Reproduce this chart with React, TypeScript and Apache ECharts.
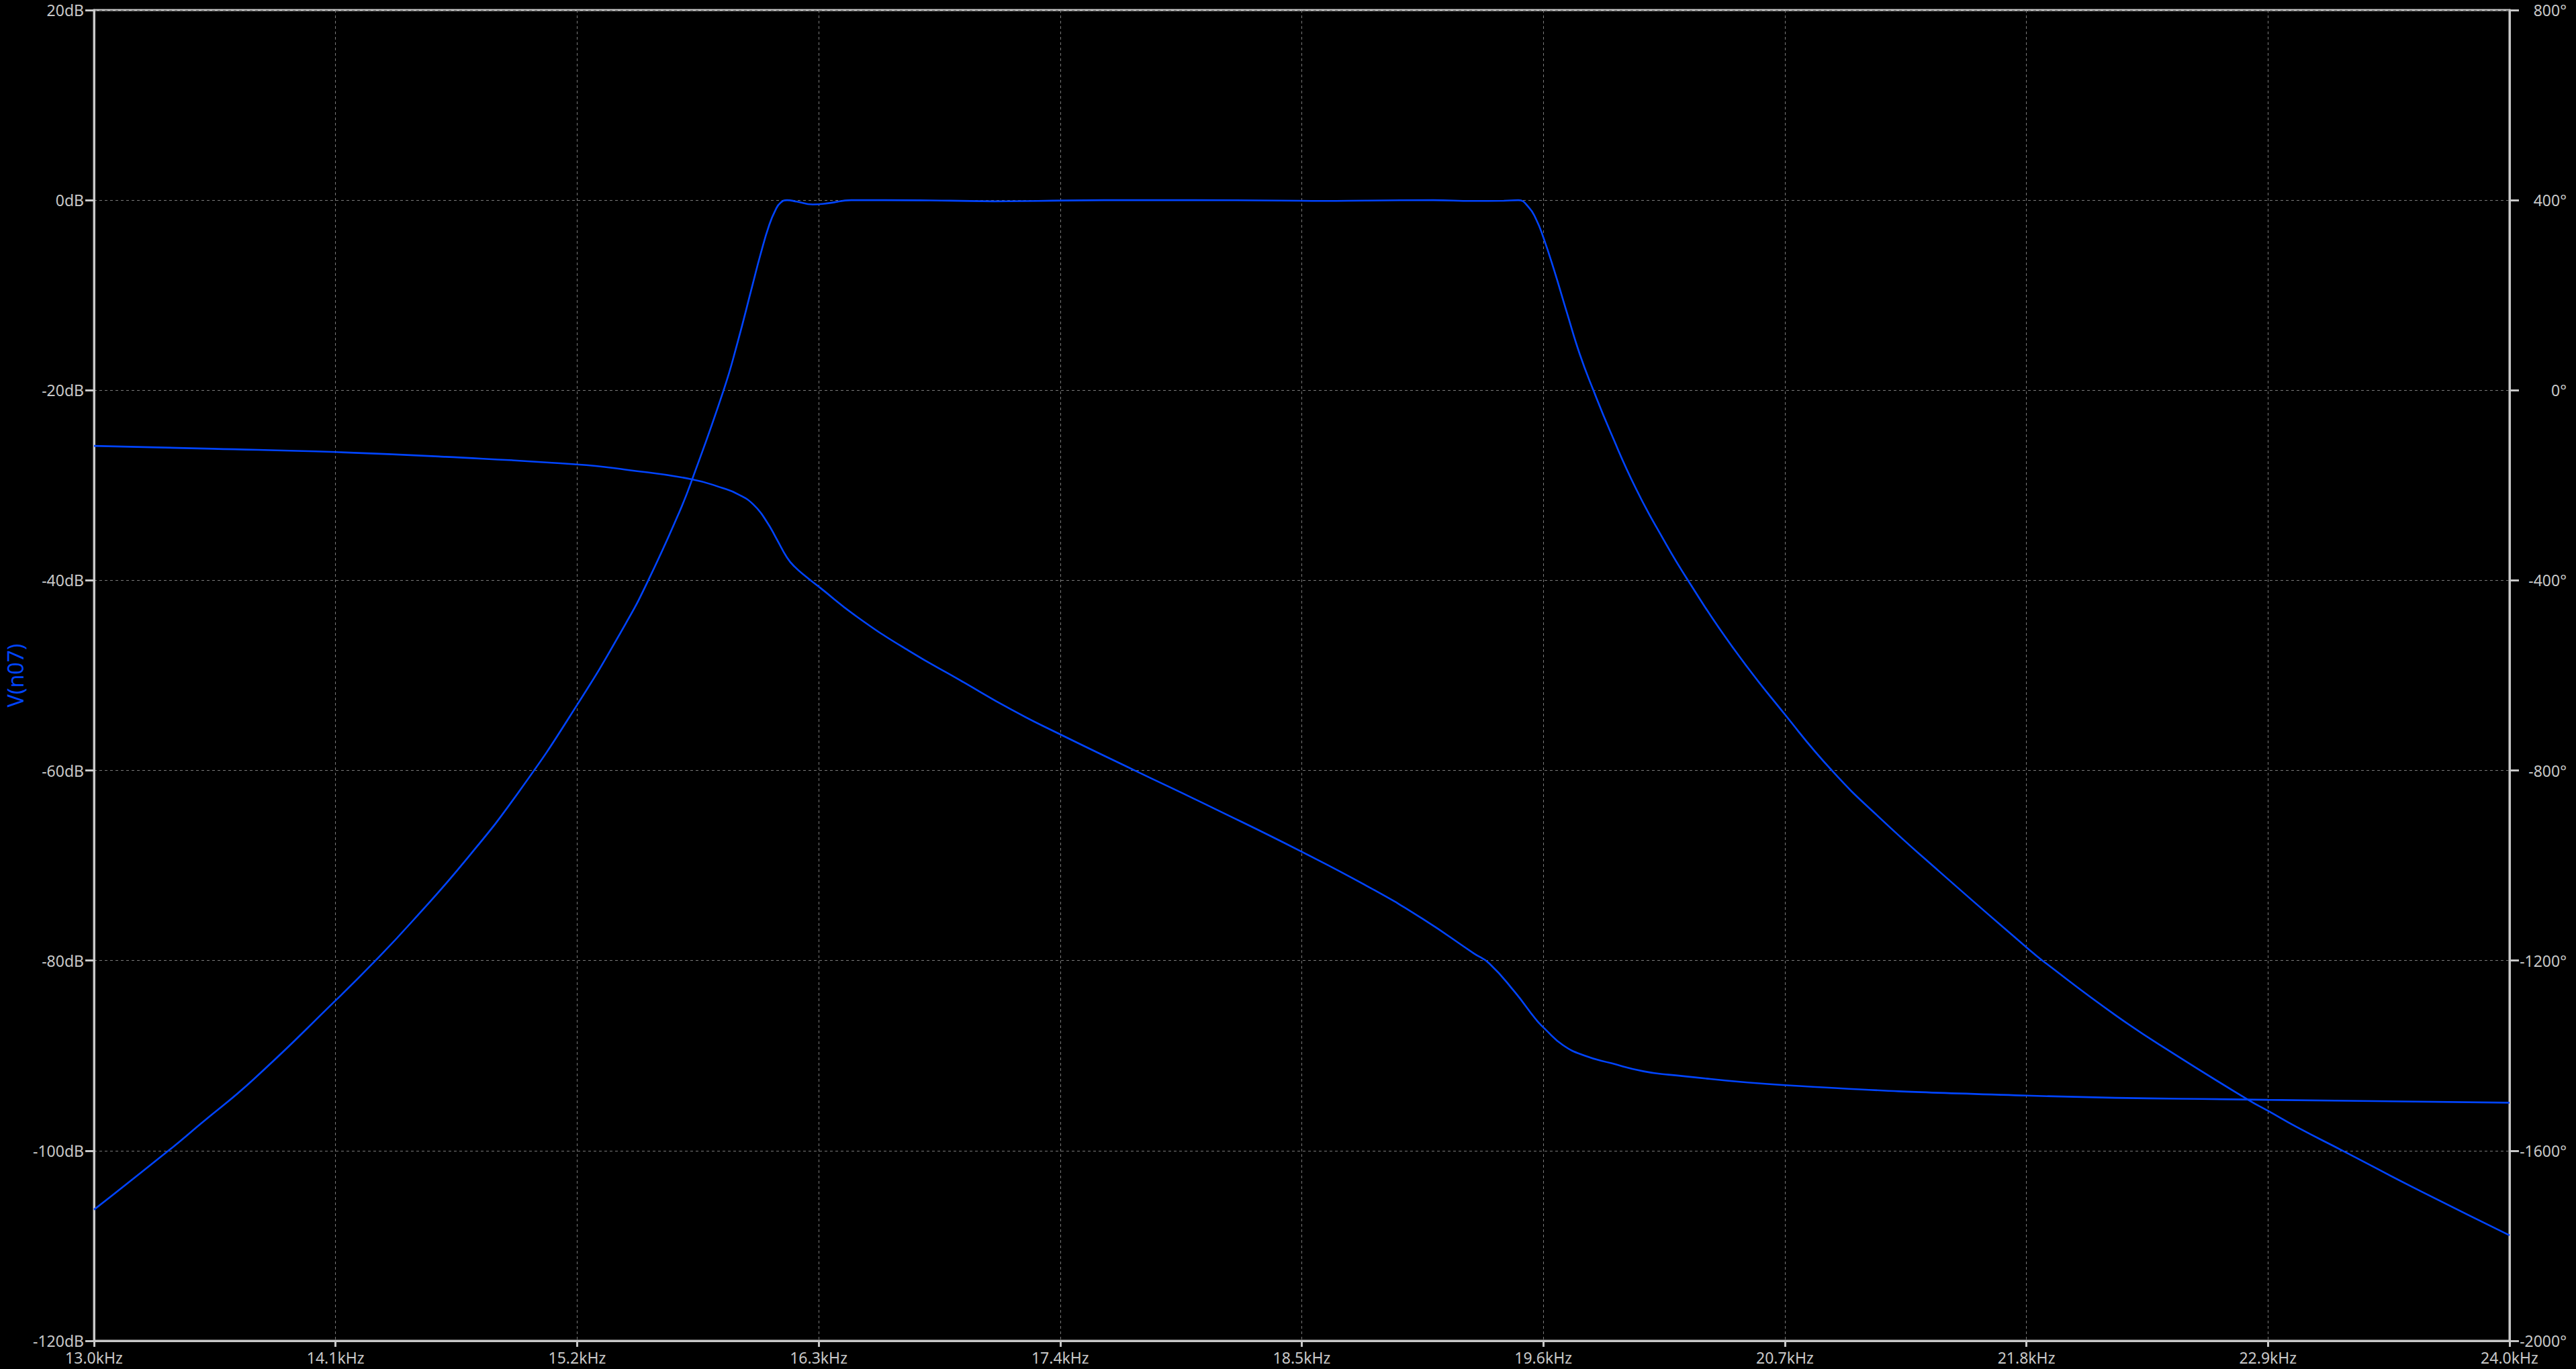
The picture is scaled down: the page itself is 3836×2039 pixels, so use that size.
import * as echarts from 'echarts';
import React, { useEffect, useRef } from 'react';

// magnitude of V(n07), left axis (dB)
const magFreqKHz = [
  13.0, 13.339, 13.484, 13.726, 14.1, 14.282, 14.452, 14.694, 14.936, 15.2, 15.42, 15.524, 15.662,
  15.722, 15.867, 15.928, 15.999, 16.034, 16.075, 16.104, 16.127, 16.156, 16.2, 16.273, 16.35,
  16.448, 16.6, 16.9, 17.1, 17.3, 17.6, 18.0, 18.4, 18.6, 18.8, 19.1, 19.28, 19.42, 19.486,
  19.532, 19.567, 19.6, 19.649, 19.707, 19.766, 19.828, 19.906, 20.023, 20.14, 20.259, 20.461,
  20.7, 20.918, 21.133, 21.402, 21.8, 21.873, 22.209, 22.478, 22.814, 22.9, 23.03, 23.24, 23.565,
  24.0,
];
const magDb = [
  -106.2, -100, -97.2, -92.5, -84.2, -80, -75.8, -69.4, -62.2, -53.1, -44.6, -40, -33.0,
  -29.5, -20, -15.2, -8.9, -5.8, -2.6, -1.0, -0.25, 0, -0.15, -0.45, -0.3,
  0, 0, -0.05, -0.12, -0.08, 0, 0, -0.04, -0.08, -0.04, 0, -0.08, -0.06, 0,
  -0.7, -2.0, -3.9, -7.35, -11.8, -16.2, -20, -24.4, -30.4, -35.4, -40, -47.0,
  -54.1, -60.1, -65.0, -70.6, -78.6, -80, -85.8, -89.9, -94.7, -95.8, -97.5, -100, -103.9,
  -108.9,
];

// phase of V(n07), right axis (degrees)
const phaseFreqKHz = [
  13.0, 13.54, 14.1, 14.6, 15.2, 15.42, 15.72, 15.864, 15.934, 16.004, 16.063, 16.11, 16.156,
  16.19, 16.242, 16.3, 16.476, 16.71, 16.944, 17.178, 17.4, 17.74, 18.11, 18.5, 18.816,
  19.05, 19.284, 19.354, 19.47, 19.565, 19.61, 19.69, 19.788, 19.91, 20.057, 20.17, 20.7,
  21.8, 22.9, 24.0,
];
const phaseDeg = [
  -117, -123, -130, -140, -156, -167, -187, -206, -219, -241, -276, -314, -352,
  -371, -392, -413, -477, -548, -610, -672, -724, -800, -882, -971, -1048,
  -1112, -1185, -1206, -1266, -1323, -1345, -1378, -1400, -1416, -1433, -1440, -1462,
  -1484, -1493, -1499,
];

const F_START = 13.0;
const F_STOP = 24.0;
const F_STEP = 1.1;
const DB_RANGE = [-120, 20];
const DEG_RANGE = [-2000, 800];

const AXIS = '#c8c8c8';
const GRID = '#7a7a7a';
const TRACE = '#0044ff';
const FONT = '"Noto Sans", "DejaVu Sans", sans-serif';

export default function App(): React.ReactElement {
  const ref = useRef<HTMLDivElement>(null);

  useEffect(() => {
    if (!ref.current) return;
    const chart = echarts.init(ref.current, null, { renderer: 'svg' });

    // x is stored as offset from the sweep start so ticks line up on 1.1 kHz steps
    const mag = magFreqKHz.map((f, i) => [f - F_START, magDb[i]]);
    const phase = phaseFreqKHz.map((f, i) => [f - F_START, phaseDeg[i]]);

    const labelStyle = { color: AXIS, fontSize: 23, fontFamily: FONT };

    chart.setOption({
      animation: false,
      backgroundColor: '#000',
      textStyle: { fontFamily: FONT },
      grid: {
        left: 140,
        right: 99,
        top: 15,
        bottom: 42,
        containLabel: false,
        outerBoundsMode: 'none',
        show: true,
        borderColor: AXIS,
        borderWidth: 3,
        backgroundColor: 'transparent',
      },
      xAxis: {
        type: 'value',
        min: 0,
        max: F_STOP - F_START,
        interval: F_STEP,
        axisLine: { show: true, onZero: false, lineStyle: { color: AXIS, width: 3 } },
        axisTick: { show: true, length: 9, lineStyle: { color: AXIS, width: 3 } },
        axisLabel: {
          ...labelStyle,
          margin: 13,
          showMinLabel: true,
          showMaxLabel: true,
          formatter: (v: number) => `${(F_START + v).toFixed(1)}kHz`,
        },
        splitLine: { show: true, lineStyle: { color: GRID, width: 1, type: [4, 4] } },
      },
      yAxis: [
        {
          type: 'value',
          position: 'left',
          min: DB_RANGE[0],
          max: DB_RANGE[1],
          interval: 20,
          name: 'V(n07)',
          nameLocation: 'middle',
          nameRotate: 90,
          nameGap: 96,
          nameTextStyle: { color: TRACE, fontSize: 32, fontFamily: FONT },
          axisLine: { show: true, onZero: false, lineStyle: { color: AXIS, width: 3 } },
          axisTick: { show: true, length: 13, lineStyle: { color: AXIS, width: 3 } },
          axisLabel: {
            ...labelStyle,
            margin: 15,
            showMinLabel: true,
            showMaxLabel: true,
            formatter: (v: number) => `${v}dB`,
          },
          splitLine: { show: true, lineStyle: { color: GRID, width: 1, type: [4, 4] } },
        },
        {
          type: 'value',
          position: 'right',
          min: DEG_RANGE[0],
          max: DEG_RANGE[1],
          interval: 400,
          axisLine: { show: true, onZero: false, lineStyle: { color: AXIS, width: 3 } },
          axisTick: { show: true, length: 14, lineStyle: { color: AXIS, width: 3 } },
          axisLabel: {
            ...labelStyle,
            margin: 85,
            align: 'right',
            showMinLabel: true,
            showMaxLabel: true,
            formatter: (v: number) => `${v}°`,
          },
          splitLine: { show: false },
        },
      ],
      series: [
        {
          name: 'magnitude',
          type: 'line',
          yAxisIndex: 0,
          data: mag,
          smooth: 0.5,
          symbol: 'none',
          lineStyle: { color: TRACE, width: 2.6 },
        },
        {
          name: 'phase',
          type: 'line',
          yAxisIndex: 1,
          data: phase,
          smooth: 0.5,
          symbol: 'none',
          lineStyle: { color: TRACE, width: 2.6 },
        },
      ],
    });

    const onResize = () => chart.resize();
    window.addEventListener('resize', onResize);
    return () => {
      window.removeEventListener('resize', onResize);
      chart.dispose();
    };
  }, []);

  return <div ref={ref} style={{ position: 'fixed', left: 0, top: 0, width: '100vw', height: '100vh', background: '#000' }} />;
}
